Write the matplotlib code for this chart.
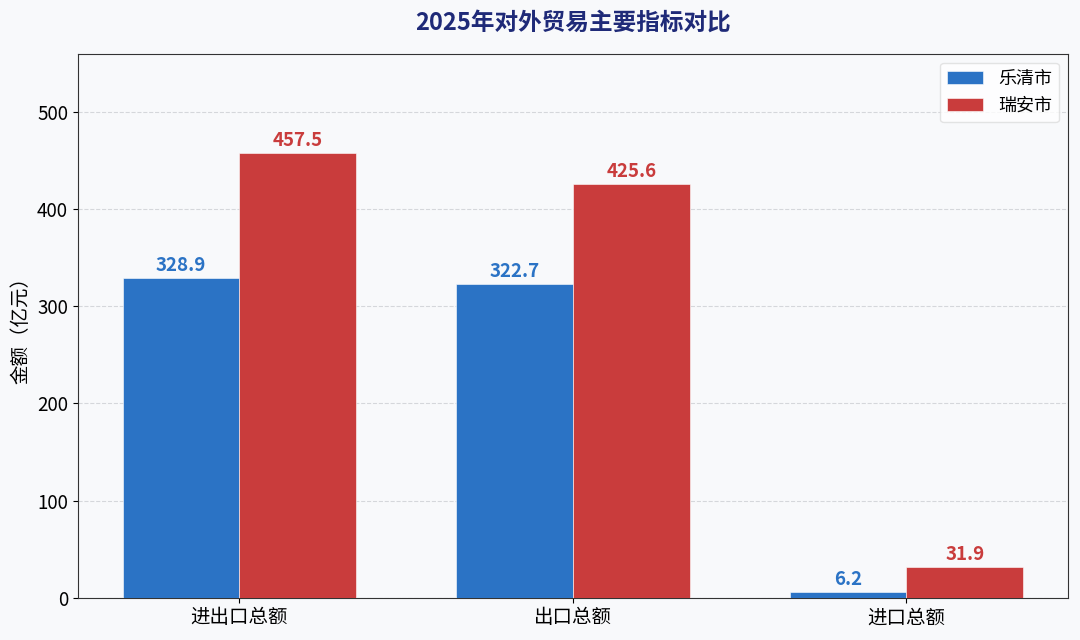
import matplotlib
matplotlib.use('Agg')
import matplotlib.pyplot as plt
import numpy as np

plt.rcParams['font.family'] = ['Noto Sans CJK SC', 'DejaVu Sans']
plt.rcParams['axes.unicode_minus'] = False

# data
categories = ['进出口总额', '出口总额', '进口总额']
yueqing = [328.9, 322.7, 6.2]
ruian = [457.5, 425.6, 31.9]
series_names = ['乐清市', '瑞安市']

blue = '#2b73c5'
red = '#c93c3c'
bg = '#f8f9fb'

fig = plt.figure(figsize=(10.8, 6.4), dpi=100, facecolor=bg)
ax = fig.add_axes([0.072, 0.066, 0.917, 0.85])
ax.set_facecolor(bg)

x = np.arange(len(categories))
w = 0.35
b1 = ax.bar(x - w/2, yueqing, w, color=blue, edgecolor='white', linewidth=0.4, label=series_names[0], zorder=3)
b2 = ax.bar(x + w/2, ruian, w, color=red, edgecolor='white', linewidth=0.4, label=series_names[1], zorder=3)

for bars, col in ((b1, blue), (b2, red)):
    for rect in bars:
        h = rect.get_height()
        ax.text(rect.get_x() + rect.get_width()/2, h + 3, f'{h:.1f}',
                ha='center', va='bottom', fontsize=13.5, fontweight='bold', color=col)

ax.set_ylim(0, 560)
ax.set_yticks([0, 100, 200, 300, 400, 500])
ax.set_xticks(x)
ax.set_xticklabels(categories, fontsize=14)
ax.tick_params(axis='y', labelsize=13.5)
ax.set_ylabel('金额（亿元）', fontsize=14)
ax.grid(axis='y', linestyle='--', color='#d5d7db', linewidth=0.8, zorder=0)
for s in ax.spines.values():
    s.set_color('#333333')

ax.set_title('2025年对外贸易主要指标对比', fontsize=17, fontweight='bold', color='#1f2a78', pad=17)
leg = ax.legend(loc='upper right', fontsize=13, frameon=True, fancybox=True)
leg.get_frame().set_edgecolor('#dddddd')
leg.get_frame().set_facecolor('white')

plt.savefig('out.png', dpi=100, facecolor=bg)
